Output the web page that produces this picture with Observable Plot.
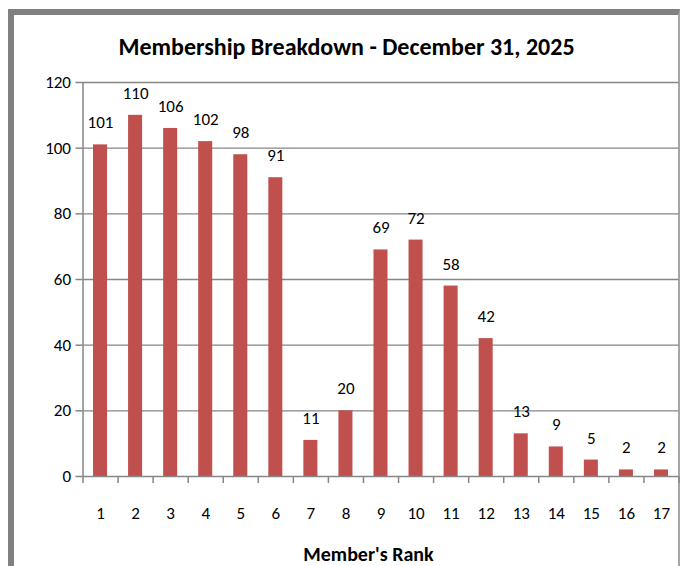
<!DOCTYPE html>
<html>
<head>
<meta charset="utf-8">
<script src="https://cdn.jsdelivr.net/npm/d3@7"></script>
<script src="https://cdn.jsdelivr.net/npm/@observablehq/plot@0.6"></script>
<style>
  html, body { margin: 0; padding: 0; background: #fff; width: 680px; height: 566px; overflow: hidden; }
  #wrap { position: relative; width: 680px; height: 566px; font-family: Carlito, Lato, "Open Sans", sans-serif; }
  #frame { position: absolute; left: 8px; top: 9px; width: 672px; height: 620px; box-sizing: border-box;
           border-left: 6px solid #808080; border-top: 6px solid #808080; border-right: 2px solid #a6a6a6; }
  #chart { position: absolute; left: 0; top: 0; }
  #overlay { position: absolute; left: 0; top: 0; }
</style>
</head>
<body>
<div id="wrap">
  <div id="frame"></div>
  <div id="chart"></div>
  <svg id="overlay" width="680" height="566"></svg>
</div>
<script>
const title = "Membership Breakdown - December 31, 2025";
const xLabel = "Member's Rank";
const ranks = [1, 2, 3, 4, 5, 6, 7, 8, 9, 10, 11, 12, 13, 14, 15, 16, 17];
const counts = [101, 110, 106, 102, 98, 91, 11, 20, 69, 72, 58, 42, 13, 9, 5, 2, 2];
const yTicks = [0, 20, 40, 60, 80, 100, 120];

const data = ranks.map((r, i) => ({rank: r, count: counts[i]}));
const boundaries = [ranks[0] - 0.5, ...ranks.map(r => r + 0.5)];
const grid = "#868686";
const font = "Carlito, Lato, 'Open Sans', sans-serif";

const chart = Plot.plot({
  width: 680,
  height: 566,
  marginLeft: 82.5,
  marginRight: 1.5,
  marginTop: 82,
  marginBottom: 90,
  style: {fontFamily: font, color: "#000", background: "transparent"},
  x: {type: "linear", domain: [ranks[0] - 0.5, ranks[ranks.length - 1] + 0.5], axis: null},
  y: {domain: [0, 120], axis: null},
  marks: [
    Plot.gridY(yTicks.slice(1), {stroke: grid, strokeOpacity: 1, strokeWidth: 1.3}),
    Plot.rectY(data, {x1: d => d.rank - 0.2, x2: d => d.rank + 0.2, y: "count", fill: "#C0504D"}),
    Plot.ruleX([boundaries[0]], {y1: 0, y2: 120, stroke: grid, strokeWidth: 1.5}),
    Plot.ruleY([0], {stroke: grid, strokeWidth: 1.5}),
    Plot.axisY({ticks: yTicks, tickSize: 7, tickPadding: 5, fontSize: 17, stroke: grid, strokeWidth: 1.5, fill: "#000", tickFormat: d => d, label: null}),
    Plot.axisX({ticks: boundaries, tickSize: 7, tickFormat: () => "", stroke: grid, strokeWidth: 1.5, label: null}),
    Plot.axisX({ticks: ranks, tickSize: 0, tickPadding: 30, fontSize: 17, fill: "#000", tickFormat: d => d, label: null}),
    Plot.text(data, {x: "rank", y: "count", text: d => String(d.count), dy: -22, fontSize: 17, fill: "#000"})
  ]
});
document.getElementById("chart").appendChild(chart);

const ov = d3.select("#overlay");
ov.append("text").attr("x", 346.5).attr("y", 55).attr("text-anchor", "middle")
  .attr("font-family", font).attr("font-weight", "bold").attr("font-size", 24).text(title);
ov.append("text").attr("x", 368.5).attr("y", 561).attr("text-anchor", "middle")
  .attr("font-family", font).attr("font-weight", "bold").attr("font-size", 20).text(xLabel);
</script>
</body>
</html>
